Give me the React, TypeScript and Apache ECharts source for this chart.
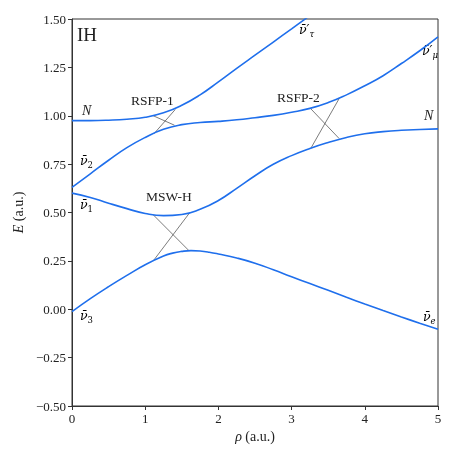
import React, { useEffect, useRef } from "react";
import * as echarts from "echarts";

// Density grid (rho, a.u.)
const rho = [0, 0.25, 0.5, 0.75, 1.0, 1.25, 1.5, 1.75, 2.0, 2.25, 2.5, 2.75, 3.0, 3.25, 3.5, 3.75, 4.0, 4.25, 4.5, 4.75, 5.0];
// Finer grid for the lowest curve (rounded peak near rho = 1.6)
const rho4 = [0, 0.25, 0.5, 0.75, 1.0, 1.25, 1.375, 1.5, 1.625, 1.75, 1.875, 2.0, 2.25, 2.5, 2.75, 3.0, 3.25, 3.5, 3.75, 4.0, 4.25, 4.5, 4.75, 5.0];
// Curve 1: N -> nu'_tau (leaves the frame above 1.5)
const E1 = [0.975, 0.975, 0.977, 0.982, 0.992, 1.015, 1.054, 1.108, 1.175, 1.245, 1.313, 1.381, 1.449, 1.518];
// Curve 2: nu2 -> nu'_mu
const E2 = [0.63, 0.70, 0.77, 0.835, 0.888, 0.93, 0.954, 0.965, 0.971, 0.979, 0.99, 1.002, 1.018, 1.038, 1.068, 1.108, 1.155, 1.207, 1.27, 1.336, 1.408];
// Curve 3: nu1 -> N
const E3 = [0.6, 0.578, 0.548, 0.52, 0.495, 0.484, 0.49, 0.517, 0.562, 0.625, 0.69, 0.749, 0.794, 0.831, 0.862, 0.888, 0.907, 0.918, 0.925, 0.929, 0.932];
// Curve 4: nu3 -> nu_e
const E4 = [-0.012, 0.055, 0.117, 0.175, 0.23, 0.275, 0.29, 0.299, 0.303, 0.301, 0.295, 0.286, 0.265, 0.238, 0.204, 0.168, 0.133, 0.098, 0.062, 0.027, -0.007, -0.04, -0.072, -0.103];

// Crossing (diabatic) guide lines: [rhoStart, EStart, rhoEnd, EEnd]
const rsfp1A = [1.11, 1.0, 1.4, 0.951];
const rsfp1B = [1.12, 0.907, 1.41, 1.032];
const mswA = [1.11, 0.488, 1.6, 0.302];
const mswB = [1.12, 0.255, 1.61, 0.5];
const rsfp2A = [3.26, 1.037, 3.65, 0.882];
const rsfp2B = [3.26, 0.83, 3.65, 1.089];

const xTickStep = 1;
const yTickStep = 0.25;

const BLUE = "#1f6fec";
const FONT = "Liberation Serif";
const NUFONT = "DejaVu Serif";

function pairs(xs: number[], ys: number[]) {
  return ys.map((y, i) => [xs[i], y]);
}
function seg(s: number[]) {
  return [
    [s[0], s[1]],
    [s[2], s[3]],
  ];
}

const rich = {
  v: { fontFamily: NUFONT, fontStyle: "italic", fontSize: 12.5, lineHeight: 18, color: "#222" },
  s: { fontFamily: NUFONT, fontStyle: "italic", fontSize: 8.5, lineHeight: 8, verticalAlign: "bottom", color: "#222" },
  n: { fontFamily: NUFONT, fontSize: 8.5, lineHeight: 8, verticalAlign: "bottom", color: "#222" },
};

export default function App() {
  const ref = useRef<HTMLDivElement>(null);
  useEffect(() => {
    if (!ref.current) return;
    const chart = echarts.init(ref.current, undefined, { renderer: "svg" });
    const curveStyle = { color: BLUE, width: 1.6 };
    const guideStyle = { color: "#444", width: 0.7 };
    const curveData = [pairs(rho, E1), pairs(rho, E2), pairs(rho, E3), pairs(rho4, E4)];
    const curves = curveData.map((d) => ({
      type: "line",
      data: d,
      smooth: 0.5,
      showSymbol: false,
      lineStyle: curveStyle,
      clip: true,
      z: 3,
    }));
    const guides = [rsfp1A, rsfp1B, mswA, mswB, rsfp2A, rsfp2B].map((s) => ({
      type: "line",
      data: seg(s),
      showSymbol: false,
      lineStyle: guideStyle,
      z: 2,
    }));
    const txt = (left: number, top: number, text: string, extra: any = {}) => ({
      type: "text",
      left,
      top,
      style: { text, fill: "#222", font: `14px "${FONT}"`, ...extra },
    });
    chart.setOption({
      animation: false,
      grid: { left: 72, top: 19, right: 19, bottom: 51, show: true, borderColor: "#333", borderWidth: 1 },
      xAxis: {
        type: "value",
        min: 0,
        max: 5,
        interval: xTickStep,
        name: "{i|ρ} (a.u.)",
        nameLocation: "middle",
        nameGap: 23,
        nameTextStyle: {
          fontFamily: FONT,
          fontSize: 14,
          color: "#222",
          rich: { i: { fontFamily: FONT, fontStyle: "italic", fontSize: 14, color: "#222" } },
        },
        axisLine: { onZero: false, lineStyle: { color: "#333", width: 1 } },
        axisTick: { length: 4, lineStyle: { color: "#333" } },
        axisLabel: { fontFamily: FONT, fontSize: 13, color: "#222", margin: 6 },
        splitLine: { show: false },
      },
      yAxis: {
        type: "value",
        min: -0.5,
        max: 1.5,
        interval: yTickStep,
        name: "{i|E} (a.u.)",
        nameLocation: "middle",
        nameGap: 35,
        nameRotate: 90,
        nameTextStyle: {
          fontFamily: FONT,
          fontSize: 14,
          color: "#222",
          rich: { i: { fontFamily: FONT, fontStyle: "italic", fontSize: 14, color: "#222" } },
        },
        axisLine: { show: true, onZero: false, lineStyle: { color: "#333", width: 1 } },
        axisTick: { show: true, length: 4, lineStyle: { color: "#333" } },
        axisLabel: {
          fontFamily: FONT,
          fontSize: 13,
          color: "#222",
          margin: 6,
          formatter: (v: number) => (v < 0 ? "\u2212" + Math.abs(v).toFixed(2) : v.toFixed(2)),
        },
        splitLine: { show: false },
      },
      graphic: [
        txt(77, 25, "IH", { font: `19px "${FONT}"` }),
        txt(82, 103, "N", { font: `italic 14px "${FONT}"` }),
        txt(424, 108, "N", { font: `italic 14px "${FONT}"` }),
        txt(131, 93, "RSFP-1", { font: `13.5px "${FONT}"` }),
        txt(277, 90, "RSFP-2", { font: `13.5px "${FONT}"` }),
        txt(146, 189, "MSW-H", { font: `13.5px "${FONT}"` }),
        { type: "text", left: 80, top: 154, style: { text: "{v|ν̄}{n|2}", rich } },
        { type: "text", left: 80, top: 198, style: { text: "{v|ν̄}{n|1}", rich } },
        { type: "text", left: 80, top: 309, style: { text: "{v|ν̄}{n|3}", rich } },
        { type: "text", left: 423, top: 310, style: { text: "{v|ν̄}{s|e}", rich } },
        { type: "text", left: 422, top: 44, style: { text: "{v|ν̄′}{s|μ}", rich } },
        { type: "text", left: 299, top: 23, style: { text: "{v|ν̄′}{s|τ}", rich } },
      ],
      series: [...curves, ...guides],
    });
    return () => chart.dispose();
  }, []);
  return <div ref={ref} style={{ position: "fixed", left: 0, top: 0, width: 457, height: 457 }} />;
}
